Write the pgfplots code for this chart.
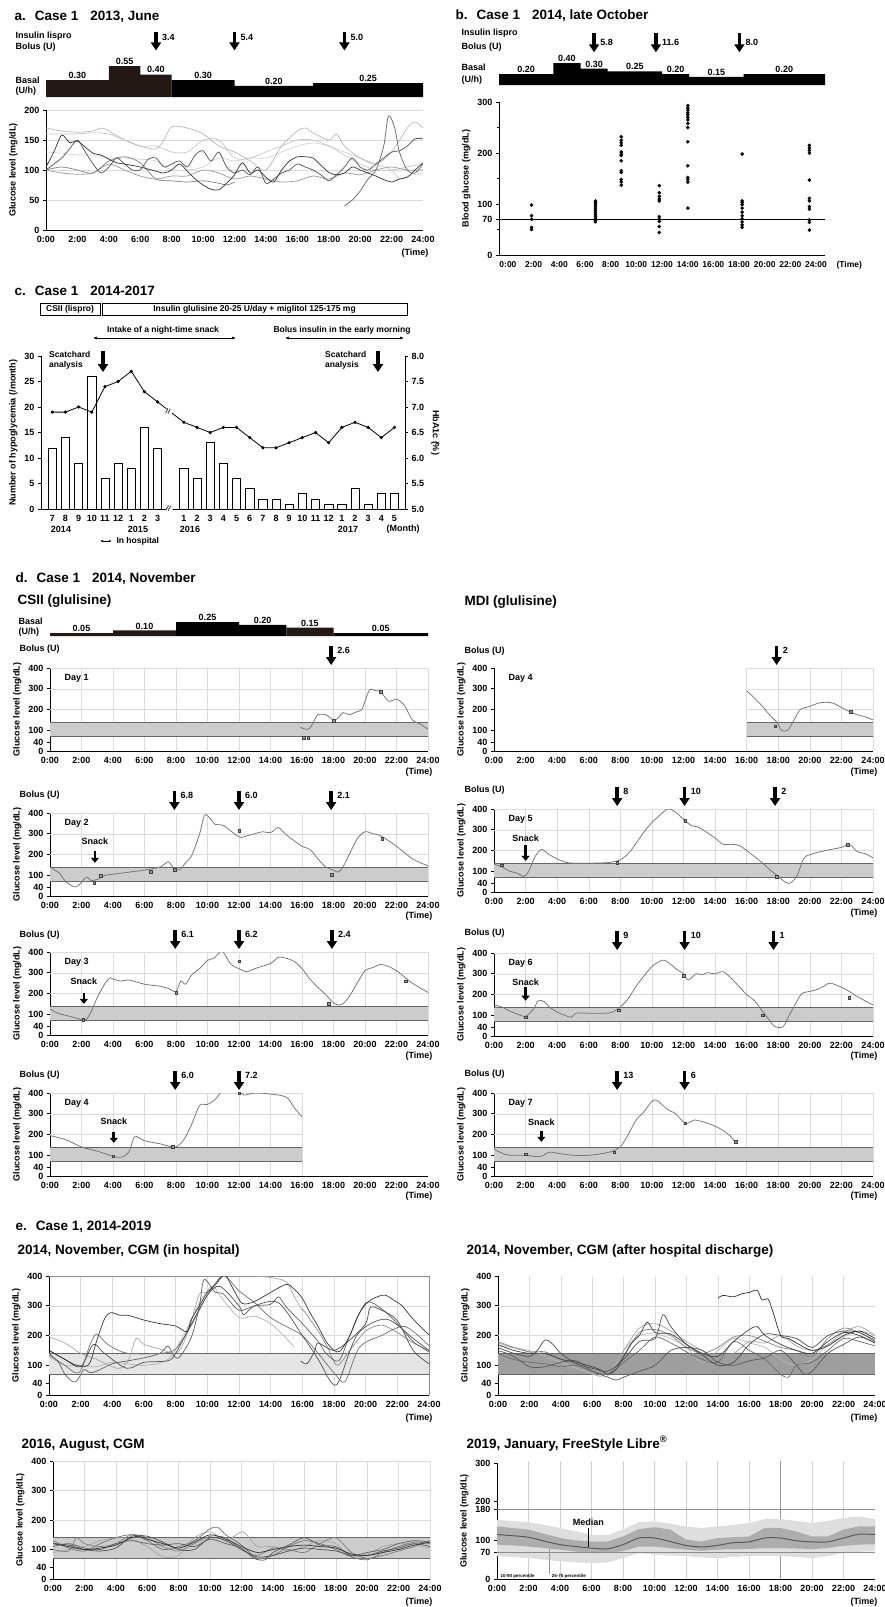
\documentclass[border=0pt]{standalone}
\usepackage{fontspec}
\setmainfont{Liberation Sans}
\usepackage{pgfplots}
\pgfplotsset{compat=1.18}
\usetikzlibrary{arrows.meta}
\definecolor{brn}{HTML}{231815}
\newcommand\tf{\fontsize{9}{10.5}\selectfont\bfseries}
\newcommand\hf{\fontsize{13.5}{15}\selectfont\bfseries}
\newcommand\cf{\fontsize{8.5}{10}\selectfont\bfseries}
\tikzset{
  bolus/.style={line width=3.6pt, -{Triangle[width=10pt,length=8pt]}},
  snk/.style={line width=2.6pt, -{Triangle[width=8pt,length=5pt]}},
  gridc/.style={black!14, line width=0.5pt},
}
\pgfplotsset{
  base/.style={scale only axis, anchor=south west, clip mode=individual,
    tick label style={font=\tf}, label style={font=\tf},
    /pgf/number format/assume math mode=true,
    axis line style={line width=0.8pt}, tick style={line width=0.7pt,black},
    tick align=outside, major tick length=3pt, minor tick length=2pt,
    axis x line*=bottom, axis y line*=left},
  timex/.style={xmin=0,xmax=24,xtick={0,2,...,24},
    xticklabels={0:00,2:00,4:00,6:00,8:00,10:00,12:00,14:00,16:00,18:00,20:00,22:00,24:00},
    xtick style={draw=none}},
  dday/.style={base,timex,width=#1,height=83pt,ymin=0,ymax=400,
    ytick={0,40,100,200,300,400}, ylabel={Glucose level (mg/dL)}},
  egl/.style={base,timex,width=#1,ymin=0,ymax=400,
    ytick={0,40,100,200,300,400}, ylabel={Glucose level (mg/dL)}},
  basal/.style={scale only axis, anchor=south west, clip=false, hide axis, xmin=0,xmax=24,ymin=0},
  bandl/.style={black!60, line width=0.7pt},
  dcurve/.style={black!55, line width=0.75pt, smooth},
  dmark/.style={only marks, mark=square*, mark size=1.3pt, mark options={fill=black!40, draw=black!75, line width=0.4pt}},
  cg/.style={#1, line width=0.7pt, smooth},
}
\newcommand\dgrid[5]{%
  \pgfplotsinvokeforeach{#1}{\draw[gridc] (axis cs:##1,0) -- (axis cs:##1,#5);}%
  \pgfplotsinvokeforeach{#4}{\draw[gridc] (axis cs:#2,##1) -- (axis cs:#3,##1);}%
}
\newcommand\dband[3]{%
  \addplot[draw=none, fill=#3] coordinates {(#1,70)(#2,70)(#2,140)(#1,140)};
  \addplot[bandl] coordinates {(#1,70)(#2,70)};
  \addplot[bandl] coordinates {(#1,140)(#2,140)};
}
\newcommand\bol[6]{%
  \draw[bolus] ([yshift=#4]axis cs:#1,#3) -- ([yshift=#5]axis cs:#1,#3);
  \node[anchor=west,font=\tf,inner sep=0pt] at ([xshift=6pt,yshift=#6]axis cs:#1,#3) {#2};
}
\newcommand\db[2]{\bol{#1}{#2}{400}{22pt}{3pt}{18pt}}
\newcommand\snack[4]{%
  \draw[snk] (axis cs:#1,#2) -- (axis cs:#1,#3);
  \node[font=\tf] at (axis cs:#1,#4) {Snack};
}
\newcommand\fullgrid{\dgrid{2,4,6,8,10,12,14,16,18,20,22,24}{0}{24}{200,300,400}{400}}

\begin{document}
\begin{tikzpicture}
\useasboundingbox (0,-1607pt) rectangle (885pt,0);

% ================= PANEL A =================
\node[anchor=base west,font=\hf] at (11pt,-20pt) {a.\hspace{9pt}Case 1\hspace{12pt}2013, June};
\node[anchor=west,font=\tf] at (12pt,-36pt) {Insulin lispro};
\node[anchor=west,font=\tf] at (12pt,-47pt) {Bolus (U)};
\node[anchor=west,font=\tf] at (12pt,-80pt) {Basal};
\node[anchor=west,font=\tf] at (12pt,-91pt) {(U/h)};
\begin{axis}[basal, at={(46pt,-97pt)}, width=377pt, height=33.6pt, ymax=0.6]
\addplot[const plot, fill=brn, draw=none] coordinates {(0,0.30)(4,0.55)(6,0.40)(8,0.40)} \closedcycle;
\addplot[const plot, fill=black, draw=none] coordinates {(8,0.30)(12,0.20)(17,0.25)(24,0.25)} \closedcycle;
\node[font=\tf,anchor=south,inner sep=1.5pt] at (axis cs:2,0.30) {0.30};
\node[font=\tf,anchor=south,inner sep=1.5pt] at (axis cs:5,0.55) {0.55};
\node[font=\tf,anchor=south,inner sep=1.5pt] at (axis cs:7,0.40) {0.40};
\node[font=\tf,anchor=south,inner sep=1.5pt] at (axis cs:10,0.30) {0.30};
\node[font=\tf,anchor=south,inner sep=1.5pt] at (axis cs:14.5,0.20) {0.20};
\node[font=\tf,anchor=south,inner sep=1.5pt] at (axis cs:20.5,0.25) {0.25};
\bol{7}{3.4}{0.6}{31pt}{13pt}{26pt}
\bol{12}{5.4}{0.6}{31pt}{13pt}{26pt}
\bol{19}{5.0}{0.6}{31pt}{13pt}{26pt}
\end{axis}
\begin{axis}[base, timex, at={(46pt,-230pt)}, width=377pt, height=120pt, ymin=0, ymax=200,
  ytick={0,50,...,200}, ymajorgrids, major grid style={black!15, line width=0.6pt},
  ylabel={Glucose level (mg/dL)}]
\addplot[cg=black!18] coordinates {(0,130)(1,128)(2,125)(3,125)(4,120)(5,120)(6,118)(7,115)(8,100)(9,100)(10,105)(11,120)(12,115)(13,120)(14,120)(15,130)(16,140)(17,145)(18,140)(19,130)(20,120)(21,110)(22,100)(22.5,85)(23,90)(24,95)};
\addplot[cg=black!22] coordinates {(0,160)(1,160)(2,160)(3,162)(4,160)(5,150)(6,140)(7,140)(8,130)(9,130)(10,150)(11,150)(12,120)(13,120)(14,130)(15,140)(16,150)(17,150)(18,140)(19,125)(20,110)(21,100)(22,100)(23,105)(24,110)};
\addplot[cg=black!28] coordinates {(0,170)(1,165)(2,163)(3,165)(3.5,170)(4,165)(5,150)(6,140)(7,135)(7.5,150)(8,172)(9,170)(10,160)(11,140)(12,130)(13,115)(14,100)(15,140)(16,165)(16.5,170)(17,162)(18,150)(18.5,160)(19,140)(20,120)(21,110)(22,130)(23,170)(23.5,180)(24,170)};
\addplot[cg=black!40] coordinates {(0,100)(1,95)(2,93)(3,95)(4,110)(5,100)(6,90)(7,85)(8,90)(9,90)(10,100)(11,95)(12,85)(13,90)(14,85)(15,80)(16,82)(17,90)(18,85)(19,95)(20,92)(21,100)(22,105)(23,100)(24,100)};
\addplot[cg=black!50] coordinates {(0,100)(1,105)(2,100)(3,95)(4,115)(5,122)(6,112)(7,85)(8,82)(9,80)(10,82)(11,78)(11.5,75)(12,80)};
\addplot[cg=black!60] coordinates {(19,40)(19.5,50)(20,65)(20.5,85)(21,100)(21.5,140)(21.8,190)(22.2,170)(22.5,130)(23,100)(23.5,95)(24,110)};
\addplot[cg=black!68] coordinates {(0,100)(0.5,110)(1,120)(1.5,135)(2,150)(2.5,130)(3,110)(3.5,95)(4,105)(4.5,120)(5,110)(5.5,100)(6,100)(6.5,118)(7,120)(7.5,105)(8,110)(8.5,115)(9,105)(9.5,125)(10,132)(10.5,115)(11,130)(11.5,105)(12,95)(12.5,100)(13,92)(13.5,105)(14,78)(14.5,85)(15,95)(15.5,100)(16,110)(16.5,105)(17,100)(17.5,92)(18,82)(18.5,92)(19,105)(19.5,120)(20,105)(20.5,100)(21,110)(21.5,120)(22,130)(22.5,132)(23,140)(23.5,152)(24,152)};
\addplot[cg=black!80] coordinates {(0,105)(0.5,130)(1,158)(1.5,146)(2,148)(2.5,138)(3,128)(3.5,125)(4,118)(4.5,112)(5,110)(6,105)(7,98)(7.5,95)(8,100)(8.5,110)(9,98)(9.5,85)(10,75)(10.5,68)(11,67)(11.5,78)(12,92)(12.5,112)(13,95)(13.5,100)(14,88)(14.5,80)(15,100)(15.5,115)(16,122)(16.5,122)(17,120)(17.5,108)(18,96)(18.5,92)(19,95)(19.5,105)(20,100)(20.5,95)(21,90)(21.5,84)(22,80)(22.5,85)(23,88)(23.5,100)(24,112)};
\end{axis}
\node[anchor=east,font=\tf] at (432pt,-253pt) {(Time)};

% ================= PANEL B =================
\node[anchor=base west,font=\hf] at (452pt,-19pt) {b.\hspace{9pt}Case 1\hspace{12pt}2014, late October};
\node[anchor=west,font=\tf] at (458pt,-33pt) {Insulin lispro};
\node[anchor=west,font=\tf] at (458pt,-47pt) {Bolus (U)};
\node[anchor=west,font=\tf] at (458pt,-67pt) {Basal};
\node[anchor=west,font=\tf] at (458pt,-80pt) {(U/h)};
\begin{axis}[basal, at={(499pt,-85pt)}, width=326pt, height=24.75pt, ymax=0.45]
\addplot[const plot, fill=black, draw=none] coordinates {(0,0.20)(4,0.40)(6,0.30)(8,0.25)(12,0.20)(14,0.15)(18,0.20)(24,0.20)} \closedcycle;
\node[font=\tf,anchor=south,inner sep=1pt] at (axis cs:2,0.20) {0.20};
\node[font=\tf,anchor=south,inner sep=1pt] at (axis cs:5,0.40) {0.40};
\node[font=\tf,anchor=south,inner sep=1pt] at (axis cs:7,0.30) {0.30};
\node[font=\tf,anchor=south,inner sep=1pt] at (axis cs:10,0.25) {0.25};
\node[font=\tf,anchor=south,inner sep=1pt] at (axis cs:13,0.20) {0.20};
\node[font=\tf,anchor=south,inner sep=1pt] at (axis cs:16,0.15) {0.15};
\node[font=\tf,anchor=south,inner sep=1pt] at (axis cs:21,0.20) {0.20};
\bol{7}{5.8}{0.45}{27pt}{8pt}{18pt}
\bol{11.55}{11.6}{0.45}{27pt}{8pt}{18pt}
\bol{17.7}{8.0}{0.45}{27pt}{8pt}{18pt}
\end{axis}
\begin{axis}[base, at={(499pt,-255pt)}, width=326pt, height=153pt, xmin=0, xmax=24, ymin=0, ymax=300,
  xtick={0.66,2.55,4.44,6.33,8.22,10.11,12,13.89,15.78,17.67,19.56,21.45,23.34},
  xticklabels={0:00,2:00,4:00,6:00,8:00,10:00,12:00,14:00,16:00,18:00,20:00,22:00,24:00},
  xtick style={draw=none}, xticklabel style={font=\fontsize{8.5}{10}\selectfont\bfseries},
  ytick={0,70,100,200,300}, minor ytick={50,150,250}, ylabel={Blood glucose (mg/dL)}]
\addplot[black, line width=0.8pt] coordinates {(0,70)(24,70)};
\addplot[only marks, mark=*, mark size=1.6pt, black] coordinates {
(2.4,98)(2.4,77)(2.4,70)(2.4,54)(2.4,50)
(7.1,106)(7.1,103)(7.1,100)(7.1,96)(7.1,92)(7.1,88)(7.1,84)(7.1,80)(7.1,76)(7.1,72)(7.1,68)(7.1,65)
(9,232)(9,225)(9,220)(9,215)(9,202)(9,198)(9,195)(9,185)(9,165)(9,162)(9,148)(9,143)(9,137)
(11.8,136)(11.8,122)(11.8,115)(11.8,110)(11.8,106)(11.8,75)(11.8,70)(11.8,66)(11.8,56)(11.8,44)
(13.9,293)(13.9,288)(13.9,284)(13.9,279)(13.9,275)(13.9,270)(13.9,265)(13.9,258)(13.9,250)(13.9,222)(13.9,175)(13.9,152)(13.9,148)(13.9,143)(13.9,92)
(17.9,198)(17.9,106)(17.9,103)(17.9,99)(17.9,92)(17.9,84)(17.9,77)(17.9,71)(17.9,65)(17.9,59)(17.9,54)
(22.85,215)(22.85,210)(22.85,205)(22.85,200)(22.85,147)(22.85,111)(22.85,106)(22.85,95)(22.85,90)(22.85,69)(22.85,64)(22.85,49)};
\end{axis}
\node[anchor=west,font=\fontsize{8.5}{10}\selectfont\bfseries] at (833pt,-265pt) {(Time)};

% ================= PANEL C =================
\node[anchor=base west,font=\hf] at (11pt,-295pt) {c.\hspace{9pt}Case 1\hspace{12pt}2014-2017};
\draw[line width=0.6pt] (40pt,-303pt) rectangle (100pt,-315pt);
\node[font=\cf] at (70pt,-309pt) {CSII (lispro)};
\draw[line width=0.6pt] (102pt,-303pt) rectangle (407pt,-315pt);
\node[font=\cf] at (254.5pt,-309pt) {Insulin glulisine 20-25 U/day + miglitol 125-175 mg};
\node[font=\cf] at (163pt,-330pt) {Intake of a night-time snack};
\draw[{Latex[length=4pt]}-{Latex[length=4pt]}, line width=0.6pt] (93pt,-338pt) -- (236pt,-338pt);
\node[font=\cf] at (342pt,-330pt) {Bolus insulin in the early morning};
\draw[{Latex[length=4pt]}-{Latex[length=4pt]}, line width=0.6pt] (285pt,-338pt) -- (404pt,-338pt);
\begin{axis}[base, at={(41pt,-509pt)}, width=364pt, height=153pt, xmin=-0.86, xmax=26.8, ymin=0, ymax=30,
  ytick={0,5,...,30},
  xtick={0,1,2,3,4,5,6,7,8,10,11,12,13,14,15,16,17,18,19,20,21,22,23,24,25,26},
  xticklabels={7,8,9,10,11,12,1,2,3,1,2,3,4,5,6,7,8,9,10,11,12,1,2,3,4,5},
  xtick style={draw=none}, ylabel={Number of hypoglycemia (/month)}]
\addplot[ybar, bar width=8.3pt, fill=white, draw=black, line width=0.6pt] coordinates {(0,12)(1,14)(2,9)(3,26)(4,6)(5,9)(6,8)(7,16)(8,12)(10,8)(11,6)(12,13)(13,9)(14,6)(15,4)(16,2)(17,2)(18,1)(19,3)(20,2)(21,1)(22,1)(23,4)(24,1)(25,3)(26,3)};
\node[fill=white, inner sep=0.5pt, rotate=70, font=\fontsize{11}{11}\selectfont] at (axis cs:8.9,0) {≈};
\end{axis}
\begin{axis}[base, at={(41pt,-509pt)}, width=364pt, height=153pt, xmin=-0.86, xmax=26.8, ymin=5, ymax=8,
  axis y line*=right, axis x line=none, ytick={5,5.5,...,8},
  yticklabel style={/pgf/number format/.cd, fixed, fixed zerofill, precision=1},
  ylabel={HbA1c (\%)}, ylabel style={rotate=180}]
\addplot[black, line width=0.8pt, mark=*, mark size=1.2pt] coordinates {(0,6.9)(1,6.9)(2,7.0)(3,6.9)(4,7.4)(5,7.5)(6,7.7)(7,7.3)(8,7.1)(10,6.7)(11,6.6)(12,6.5)(13,6.6)(14,6.6)(15,6.4)(16,6.2)(17,6.2)(18,6.3)(19,6.4)(20,6.5)(21,6.3)(22,6.6)(23,6.7)(24,6.6)(25,6.4)(26,6.6)};
\node[fill=white, inner sep=0.5pt, rotate=70, font=\fontsize{11}{11}\selectfont] at (axis cs:8.85,6.9) {≈};
\end{axis}
\node[anchor=north west,font=\cf,align=left,inner sep=0pt] at (49pt,-351pt) {Scatchard\\analysis};
\node[anchor=north west,font=\cf,align=left,inner sep=0pt] at (325pt,-351pt) {Scatchard\\analysis};
\draw[bolus] (103pt,-351pt) -- (103pt,-372pt);
\draw[bolus] (378pt,-351pt) -- (378pt,-372pt);
\node[font=\tf] at (61pt,-529pt) {2014};
\node[font=\tf] at (138pt,-529pt) {2015};
\node[font=\tf] at (190pt,-529pt) {2016};
\node[font=\tf] at (348pt,-529pt) {2017};
\node[font=\tf] at (403pt,-529pt) {(Month)};
\draw[{Latex[length=3pt]}-{Latex[length=3pt]}, line width=0.6pt] (100pt,-541pt) -- (112pt,-541pt);
\node[anchor=west,font=\cf] at (113pt,-541pt) {In hospital};

% ================= PANEL D =================
\node[anchor=base west,font=\hf] at (12pt,-582pt) {d.\hspace{9pt}Case 1\hspace{12pt}2014, November};
\node[anchor=base west,font=\hf] at (14pt,-604pt) {CSII (glulisine)};
\node[anchor=base west,font=\hf] at (461pt,-605pt) {MDI (glulisine)};
\node[anchor=west,font=\tf] at (15pt,-621pt) {Basal};
\node[anchor=west,font=\tf] at (15pt,-632pt) {(U/h)};
\begin{axis}[basal, at={(50pt,-636pt)}, width=378pt, height=16.8pt, ymax=0.3]
\addplot[const plot, fill=brn, draw=none] coordinates {(0,0.05)(4,0.10)(8,0.10)} \closedcycle;
\addplot[const plot, fill=black, draw=none] coordinates {(8,0.25)(12,0.20)(15,0.20)} \closedcycle;
\addplot[const plot, fill=brn, draw=none] coordinates {(15,0.15)(18,0.15)} \closedcycle;
\addplot[const plot, fill=black, draw=none] coordinates {(18,0.05)(24,0.05)} \closedcycle;
\node[font=\tf,anchor=south,inner sep=1pt] at (axis cs:2,0.05) {0.05};
\node[font=\tf,anchor=south,inner sep=1pt] at (axis cs:6,0.10) {0.10};
\node[font=\tf,anchor=south,inner sep=1pt] at (axis cs:10,0.25) {0.25};
\node[font=\tf,anchor=south,inner sep=1pt] at (axis cs:13.5,0.20) {0.20};
\node[font=\tf,anchor=south,inner sep=1pt] at (axis cs:16.5,0.15) {0.15};
\node[font=\tf,anchor=south,inner sep=1pt] at (axis cs:21,0.05) {0.05};
\end{axis}

% Day 1
\begin{axis}[dday=378pt, at={(50pt,-751pt)}]
\fullgrid
\dband{0}{24}{black!20}
\addplot[dcurve] coordinates {(15.9,115)(16.2,105)(16.5,110)(16.8,150)(17,175)(17.5,175)(18,150)(18.3,160)(18.6,185)(19,175)(19.5,190)(19.8,200)(20,240)(20.3,295)(20.7,290)(21,285)(21.5,240)(22,250)(22.5,220)(23,150)(23.5,130)(24,105)};
\addplot[dmark] coordinates {(16.1,65)(16.4,65)(18.0,147)(21.0,286)};
\node[anchor=west,font=\tf] at (axis cs:0.7,352) {Day 1};
\db{17.85}{2.6}
\end{axis}
\node[anchor=west,font=\tf] at (16pt,-649pt) {Bolus (U)};
\node[anchor=east,font=\tf] at (436pt,-772pt) {(Time)};

% Day 2
\begin{axis}[dday=378pt, at={(50pt,-896pt)}]
\fullgrid
\dband{0}{24}{black!20}
\addplot[dcurve] coordinates {(0,140)(0.3,125)(0.6,110)(1,70)(1.5,45)(1.8,50)(2.2,85)(2.4,90)(2.6,75)(3,80)(3.5,100)(4,105)(5,115)(6,125)(7,140)(7.5,165)(7.8,140)(8.2,125)(8.6,160)(9,195)(9.5,300)(9.8,388)(10.1,380)(10.5,345)(11,340)(12,285)(12.5,290)(13,300)(13.5,310)(14,305)(14.5,330)(15,295)(16,240)(16.5,225)(17,180)(17.5,140)(18,125)(18.3,115)(18.6,140)(19,200)(19.5,275)(20,310)(20.5,300)(21,290)(22,240)(23,180)(24,145)};
\addplot[dmark] coordinates {(2.8,65)(3.2,97)(6.4,118)(7.9,128)(12,315)(17.9,103)(21.1,277)};
\node[anchor=west,font=\tf] at (axis cs:0.7,352) {Day 2};
\snack{2.85}{215}{160}{262}
\db{7.9}{6.8}\db{12}{6.0}\db{17.85}{2.1}
\end{axis}
\node[anchor=west,font=\tf] at (16pt,-795pt) {Bolus (U)};
\node[anchor=east,font=\tf] at (436pt,-916pt) {(Time)};

% Day 3
\begin{axis}[dday=378pt, at={(50pt,-1035pt)}]
\fullgrid
\dband{0}{24}{black!20}
\addplot[dcurve] coordinates {(0,125)(0.5,105)(1,95)(1.5,85)(2,75)(2.3,75)(2.6,110)(3,180)(3.5,250)(3.8,275)(4,270)(4.5,260)(5,265)(6,245)(7,235)(7.5,225)(8,210)(8.3,260)(8.6,245)(9,290)(9.5,320)(10,360)(10.4,370)(10.8,400)(11,400)(11.5,340)(12,320)(12.5,305)(13,320)(14,345)(14.5,375)(15,370)(15.5,355)(16,320)(16.5,270)(17,230)(17.5,195)(18,155)(18.3,145)(18.6,150)(19,185)(19.5,250)(20,310)(20.5,325)(21,340)(21.5,330)(22,310)(22.5,280)(23,250)(24,205)};
\addplot[dmark] coordinates {(2.1,75)(8,205)(12,355)(17.7,150)(22.6,260)};
\node[anchor=west,font=\tf] at (axis cs:0.7,352) {Day 3};
\snack{2.15}{203}{150}{260}
\db{7.95}{6.1}\db{12}{6.2}\db{17.9}{2.4}
\end{axis}
\node[anchor=west,font=\tf] at (16pt,-935pt) {Bolus (U)};
\node[anchor=east,font=\tf] at (436pt,-1056pt) {(Time)};

% Day 4 CSII
\begin{axis}[dday=378pt, at={(50pt,-1176pt)}]
\dgrid{2,4,6,8,10,12,14,16}{0}{16}{200,300,400}{400}
\dband{0}{16}{black!20}
\addplot[dcurve] coordinates {(0,195)(1,175)(2,140)(3,120)(4,95)(4.5,90)(5,115)(5.3,180)(5.5,190)(6,170)(7,155)(7.5,145)(8,140)(8.5,175)(9,250)(9.5,340)(10,345)(10.5,370)(11,410)(12,410)(12.3,390)(13,400)(14,395)(15,380)(15.5,330)(16,285)};
\addplot[dmark] coordinates {(4,95)(7.8,140)(12,400)};
\node[anchor=west,font=\tf] at (axis cs:0.7,352) {Day 4};
\snack{4.05}{212}{160}{265}
\db{7.95}{6.0}\db{12}{7.2}
\end{axis}
\node[anchor=west,font=\tf] at (16pt,-1075pt) {Bolus (U)};
\node[anchor=east,font=\tf] at (436pt,-1196pt) {(Time)};

% Day 4 MDI
\begin{axis}[dday=379pt, at={(494pt,-751pt)}]
\dgrid{16,18,20,22,24}{16}{24}{200,300,400}{400}
\dband{16}{24}{black!20}
\addplot[dcurve] coordinates {(16,290)(16.5,255)(17,215)(17.5,170)(17.9,140)(18.2,100)(18.6,100)(19,150)(19.4,200)(20,215)(20.5,230)(21,235)(21.5,230)(22,210)(22.5,190)(23,175)(23.5,165)(24,150)};
\addplot[dmark] coordinates {(17.8,120)(22.6,190)};
\node[anchor=west,font=\tf] at (axis cs:0.7,352) {Day 4};
\db{17.9}{2}
\end{axis}
\node[anchor=west,font=\tf] at (461pt,-651pt) {Bolus (U)};
\node[anchor=east,font=\tf] at (881pt,-772pt) {(Time)};

% Day 5
\begin{axis}[dday=379pt, at={(494pt,-892pt)}]
\fullgrid
\dband{0}{24}{black!20}
\addplot[dcurve] coordinates {(0,135)(0.5,120)(1,100)(1.5,90)(1.9,75)(2.2,100)(2.6,170)(3,205)(3.5,180)(4,160)(4.8,140)(6.8,140)(7.5,145)(8,155)(8.5,185)(9,235)(9.5,290)(10,335)(10.5,370)(11,400)(11.5,385)(12,350)(12.5,320)(13,310)(14,260)(14.5,230)(15,230)(15.5,225)(16,200)(17,140)(17.5,105)(18,75)(18.5,45)(18.8,45)(19.2,80)(19.6,160)(20,180)(21,200)(22,215)(22.5,230)(23,195)(23.5,185)(24,165)};
\addplot[dmark] coordinates {(0.5,130)(7.8,140)(12.1,345)(17.9,75)(22.4,228)};
\node[anchor=west,font=\tf] at (axis cs:0.7,352) {Day 5};
\snack{2}{225}{150}{257}
\db{7.8}{8}\db{12.07}{10}\db{17.8}{2}
\end{axis}
\node[anchor=west,font=\tf] at (461pt,-790pt) {Bolus (U)};
\node[anchor=east,font=\tf] at (881pt,-913pt) {(Time)};

% Day 6
\begin{axis}[dday=379pt, at={(494pt,-1036pt)}]
\fullgrid
\dband{0}{24}{black!20}
\addplot[dcurve] coordinates {(0,150)(0.5,140)(1,120)(1.5,105)(2,95)(2.5,130)(2.8,170)(3.2,165)(3.5,140)(4,115)(4.5,100)(4.9,90)(5.2,110)(6,110)(7,110)(7.5,115)(8,140)(8.5,180)(9,240)(9.5,290)(10,335)(10.5,360)(10.8,365)(11.2,345)(11.5,325)(12,300)(12.3,270)(12.8,300)(13.2,295)(13.5,305)(14,300)(14.5,310)(15,280)(15.5,240)(16,200)(16.5,170)(17,120)(17.5,70)(17.8,45)(18.3,45)(18.7,100)(19.2,170)(19.5,205)(20,215)(20.5,225)(21,245)(21.3,255)(22,235)(22.5,215)(23,190)(24,150)};
\addplot[dmark] coordinates {(2,90)(7.9,125)(12,290)(17,100)(22.5,185)};
\node[anchor=west,font=\tf] at (axis cs:0.7,352) {Day 6};
\snack{2}{235}{170}{257}
\db{7.8}{9}\db{12.07}{10}\db{17.7}{1}
\end{axis}
\node[anchor=west,font=\tf] at (461pt,-933pt) {Bolus (U)};
\node[anchor=east,font=\tf] at (881pt,-1056pt) {(Time)};

% Day 7
\begin{axis}[dday=379pt, at={(494pt,-1176pt)}]
\fullgrid
\dband{0}{24}{black!20}
\addplot[dcurve] coordinates {(0,130)(0.5,110)(1,100)(2,100)(2.5,95)(3,95)(3.5,115)(4,110)(5,100)(6,100)(7,110)(7.5,120)(8,140)(8.5,200)(9,270)(9.5,310)(10,360)(10.3,365)(10.7,340)(11,320)(11.5,300)(12,260)(12.3,255)(12.7,270)(13.5,255)(14,240)(14.5,220)(15,190)(15.3,160)};
\addplot[dmark] coordinates {(2,105)(7.6,115)(12.1,255)(15.3,165)};
\node[anchor=west,font=\tf] at (axis cs:0.7,352) {Day 7};
\snack{3}{215}{165}{258}
\db{7.8}{13}\db{12.07}{6}
\end{axis}
\node[anchor=west,font=\tf] at (461pt,-1074pt) {Bolus (U)};
\node[anchor=east,font=\tf] at (881pt,-1196pt) {(Time)};

% ================= PANEL E =================
\node[anchor=base west,font=\hf] at (12pt,-1230pt) {e.\hspace{9pt}Case 1, 2014-2019};
\node[anchor=base west,font=\hf] at (14pt,-1254pt) {2014, November, CGM (in hospital)};
\node[anchor=base west,font=\hf] at (463pt,-1254pt) {2014, November, CGM (after hospital discharge)};

\begin{axis}[egl=380pt, height=119pt, at={(49pt,-1395pt)}]
\dgrid{2,4,6,8,10,12,14,16,18,20,22}{0}{24}{200,300}{400}
\draw[black!45, line width=0.6pt] (axis cs:0,400) -- (axis cs:24,400) -- (axis cs:24,0);
\dband{0}{24}{black!10}
\addplot[cg=black!35] coordinates {(0,195)(1,175)(2,140)(3,120)(4,95)(4.5,90)(5,115)(5.5,190)(6,170)(7,155)(8,140)(8.5,175)(9,250)(9.5,340)(10,345)(10.5,370)(11,410)(12,410)(13,400)(14,395)(15,380)(15.5,330)(16,285)};
\addplot[cg=black!30] coordinates {(0,130)(1,100)(2,100)(3,95)(4,110)(6,100)(7.5,120)(8.5,200)(9.5,310)(10.3,365)(11,320)(12,260)(13,265)(14,240)(15,190)(15.5,160)};
\addplot[cg=black!45] coordinates {(16,290)(17,215)(17.6,160)(18.2,100)(19,150)(20,215)(21,235)(22,210)(23,175)(24,150)};
\addplot[cg=black!62] coordinates {(0,140)(0.6,110)(1,70)(1.5,45)(1.8,50)(2.2,85)(2.6,75)(3,80)(4,105)(5,115)(6,125)(7,140)(7.5,165)(7.8,140)(8.2,125)(9,195)(9.5,300)(9.8,388)(10.5,345)(11,340)(12,285)(13,300)(14,305)(14.5,330)(15,295)(16,240)(17,180)(17.5,140)(18.3,115)(19,200)(20,310)(21,290)(22,240)(23,180)(24,145)};
\addplot[cg=black!55] coordinates {(0,135)(1,100)(1.9,75)(2.6,170)(3,205)(3.5,180)(4,160)(5,140)(7,140)(8,155)(9,235)(10,335)(11,400)(12,350)(13,310)(14,260)(15,230)(16,200)(17,140)(18,75)(18.7,45)(19.6,160)(21,200)(22.5,230)(24,165)};
\addplot[cg=black!68] coordinates {(0,150)(1,120)(2,95)(2.8,170)(3.5,140)(4.9,90)(6,110)(7.5,115)(8,140)(9,240)(10,335)(10.8,365)(12,300)(12.3,270)(13,300)(14.5,310)(16,200)(17,120)(17.8,45)(18.3,45)(19.5,205)(21.3,255)(23,190)(24,150)};
\addplot[cg=black!70] coordinates {(15.9,115)(16.3,105)(16.8,150)(17,175)(18,150)(19,185)(20,240)(20.3,295)(21,285)(22,250)(23,150)(24,105)};
\addplot[cg=black!78] coordinates {(0,150)(0.5,135)(1,120)(1.5,105)(2.2,95)(2.6,110)(3,180)(3.5,255)(3.9,277)(4.5,268)(5,268)(6,252)(7,240)(8,232)(8.7,213)(9,255)(9.5,300)(10,345)(10.5,370)(11.1,403)(11.6,360)(12.2,308)(13,315)(14,345)(15,372)(15.5,355)(16,325)(16.5,275)(17,230)(17.5,180)(18,150)(18.4,148)(19,200)(19.5,265)(20,305)(20.5,325)(21.2,336)(21.8,318)(22.3,300)(23,255)(24,202)};
\end{axis}
\node[anchor=east,font=\tf] at (436pt,-1418pt) {(Time)};

\begin{axis}[egl=377pt, height=119pt, at={(498pt,-1395pt)}]
\dgrid{2,4,6,8,10,12,14,16,18,20,22}{0}{24}{200,300}{400}
\dband{0}{24}{black!38}
\addplot[cg=black!28] coordinates {(0,165)(2,150)(4,110)(6,70)(7,65)(8,150)(9,200)(10,205)(11,190)(12,160)(13,110)(14,150)(15,190)(16,175)(17,160)(18,120)(19,100)(20,120)(21,170)(22,195)(23,215)(24,200)};
\addplot[cg=black!35] coordinates {(0,175)(1,160)(2,145)(3,130)(4,120)(5,100)(6,70)(7,75)(8,150)(9,225)(10,240)(11,215)(12,180)(13,150)(14,130)(15,140)(16,180)(17,175)(18,200)(19,165)(20,150)(21,170)(22,210)(23,230)(24,200)};
\addplot[cg=black!48] coordinates {(0,180)(1,160)(2,145)(3,145)(4,120)(5,100)(6,80)(7,70)(8,130)(9,210)(10,220)(11,200)(12,160)(13,140)(14,160)(15,195)(16,200)(17,180)(18,160)(19,150)(20,130)(21,190)(22,225)(23,210)(24,185)};
\addplot[cg=black!58] coordinates {(0,140)(1,120)(2,110)(3,105)(4,95)(5,100)(6,80)(7,70)(8,110)(9,150)(10,195)(11,175)(12,145)(13,120)(14,110)(15,180)(16,150)(17,120)(18,70)(18.5,60)(19,100)(20,110)(21,150)(22,190)(23,180)(24,165)};
\addplot[cg=black!65] coordinates {(0,150)(1,130)(2,95)(3,95)(4,110)(5,115)(6,80)(7,60)(7.5,50)(8,60)(9,80)(10,100)(11,150)(12,160)(13,150)(14,110)(15,100)(16,115)(17,125)(18,150)(19,100)(19.5,70)(20,80)(21,140)(22,170)(23,195)(24,175)};
\addplot[cg=black!70] coordinates {(0,160)(1,140)(2,130)(2.5,150)(3,185)(3.5,170)(4,140)(5,105)(6,90)(7,80)(8,120)(9,180)(10,190)(10.5,270)(11,230)(12,170)(13,135)(14,100)(15,110)(16,170)(17,205)(18,200)(19,190)(20,160)(21,200)(22,215)(23,210)(24,180)};
\addplot[cg=black!75] coordinates {(0,170)(1,150)(2,140)(3,140)(4,120)(5,110)(6,95)(6.5,85)(7,70)(7.5,85)(8,130)(8.5,175)(9,200)(9.5,245)(10,210)(11,205)(12,170)(13,140)(14,130)(15,180)(16,220)(16.5,230)(17,200)(18,170)(19,150)(20,140)(21,180)(22,210)(23,200)(24,175)};
\addplot[cg=black!82] coordinates {(14,325)(14.3,335)(15,330)(15.5,340)(16,345)(16.5,352)(16.8,320)(17.2,322)(17.5,280)(18,200)(18.5,190)(19,175)(20,150)(21,165)(22,200)(23,215)(24,190)};
\end{axis}
\node[anchor=east,font=\tf] at (881pt,-1418pt) {(Time)};

\node[anchor=base west,font=\hf] at (18pt,-1448pt) {2016, August, CGM};
\node[anchor=base west,font=\hf] at (463pt,-1448pt) {2019, January, FreeStyle Libre\textsuperscript{®}};

\begin{axis}[egl=377pt, height=118pt, at={(53pt,-1579pt)}]
\dgrid{2,4,6,8,10,12,14,16,18,20,22,24}{0}{24}{200,300,400}{400}
\dband{0}{24}{black!20}
\addplot[cg=black!35] coordinates {(0,90)(1,100)(2,110)(3,130)(4,140)(5,135)(6,110)(7,75)(8,80)(9,140)(10,160)(11,130)(12,160)(12.5,140)(13,110)(14,110)(15,95)(16,110)(17,130)(18,120)(19,75)(20,85)(21,110)(22,120)(23,115)(24,105)};
\addplot[cg=black!50] coordinates {(0,100)(1,95)(1.5,140)(2,120)(3,110)(4,120)(5,150)(6,140)(7,110)(8,95)(9,120)(10,145)(11,140)(12,100)(13,80)(14,105)(15,100)(16,90)(17,120)(18,140)(19,90)(20,70)(21,80)(22,95)(23,110)(24,130)};
\addplot[cg=black!55] coordinates {(0,130)(1,105)(2,95)(3,120)(4,140)(5,150)(6,130)(7,100)(8,110)(9,130)(10,170)(10.5,175)(11,150)(12,115)(13,70)(14,80)(15,110)(16,130)(17,120)(18,100)(19,75)(20,65)(21,90)(22,110)(23,125)(24,120)};
\addplot[cg=black!62] coordinates {(0,110)(1,120)(2,105)(3,100)(4,120)(5,130)(6,120)(7,115)(8,120)(9,110)(10,135)(11,120)(12,105)(12.8,70)(13.5,65)(14,90)(15,115)(16,140)(17,115)(18,110)(19,80)(20,90)(21,100)(22,120)(23,130)(24,125)};
\addplot[cg=black!68] coordinates {(0,120)(1,115)(2,100)(3,95)(4,105)(5,145)(6,145)(7,125)(8,100)(9,100)(10,140)(11,130)(12,100)(13,75)(14,80)(15,95)(16,105)(17,100)(18,95)(19,80)(20,80)(21,95)(22,105)(23,120)(24,110)};
\addplot[cg=black!80] coordinates {(0,120)(1,110)(2,100)(3,105)(4,115)(5,140)(5.5,145)(6,135)(7,120)(8,105)(9,125)(10,150)(11,135)(12,110)(13,90)(14,100)(15,110)(16,115)(17,110)(18,105)(19,85)(20,80)(21,90)(22,100)(23,115)(24,125)};
\end{axis}
\node[anchor=east,font=\tf] at (436pt,-1602pt) {(Time)};

\begin{axis}[base, timex, at={(497pt,-1579pt)}, width=378pt, height=116pt, ymin=0, ymax=300,
  ytick={0,70,100,180,200,300}, ylabel={Glucose level (mg/dL)}]
\pgfplotsinvokeforeach{2,4,6,8,10,12,14,16,20,22}{\draw[black!18, line width=0.5pt] (axis cs:#1,0) -- (axis cs:#1,305);}
\draw[black!40, line width=0.6pt] (axis cs:18,0) -- (axis cs:18,305);
\addplot[draw=none, fill=black!13] coordinates {(0,153)(1,150)(2,147)(3,140)(4,132)(5,123)(6,115)(7,113)(8,128)(9,147)(10,149)(11,143)(12,136)(13,132)(14,136)(15,140)(16,145)(17,155)(18,155)(19,150)(20,145)(21,150)(22,158)(23,162)(24,155)
(24,72)(23,70)(22,67)(21,59)(20,54)(19,57)(18,59)(17,59)(16,59)(15,57)(14,54)(13,56)(12,59)(11,61)(10,63)(9,67)(8,54)(7,43)(6,41)(5,43)(4,46)(3,50)(2,54)(1,57)(0,59)};
\addplot[draw=none, fill=black!32] coordinates {(0,136)(1,132)(2,128)(3,117)(4,106)(5,100)(6,97)(7,97)(8,110)(9,129)(10,134)(11,128)(12,102)(13,97)(14,106)(15,108)(16,110)(17,132)(18,132)(19,123)(20,110)(21,110)(22,128)(23,136)(24,136)
(24,90)(23,89)(22,86)(21,80)(20,77)(19,79)(18,80)(17,80)(16,78)(15,77)(14,76)(13,73)(12,76)(11,80)(10,84)(9,84)(8,72)(7,68)(6,67)(5,71)(4,76)(3,80)(2,84)(1,87)(0,89)};
\addplot[black!45, line width=0.7pt] coordinates {(0,180)(24,180)};
\addplot[black!45, line width=0.7pt] coordinates {(0,70)(24,70)};
\addplot[black!65, line width=1pt, smooth] coordinates {(0,115)(1,112)(2,108)(3,98)(4,89)(5,84)(6,80)(7,78)(8,89)(9,106)(10,106)(11,97)(12,87)(13,83)(14,87)(15,94)(16,96)(17,106)(18,106)(19,99)(20,96)(21,96)(22,106)(23,116)(24,115)};
\draw[black, line width=0.6pt] (axis cs:5.8,132) -- (axis cs:5.8,82);
\node[font=\tf, anchor=south] at (axis cs:5.8,130) {Median};
\draw[black!40, line width=0.6pt] (axis cs:3.3,78) -- (axis cs:3.3,12);
\node[font=\fontsize{4.5}{5}\selectfont\bfseries, anchor=west, inner sep=1pt] at (axis cs:0.15,8) {10-90 percentile};
\node[font=\fontsize{4.5}{5}\selectfont\bfseries, anchor=west, inner sep=1pt] at (axis cs:3.4,8) {25-75 percentile};
\end{axis}
\node[anchor=east,font=\tf] at (881pt,-1602pt) {(Time)};

\end{tikzpicture}
\end{document}
